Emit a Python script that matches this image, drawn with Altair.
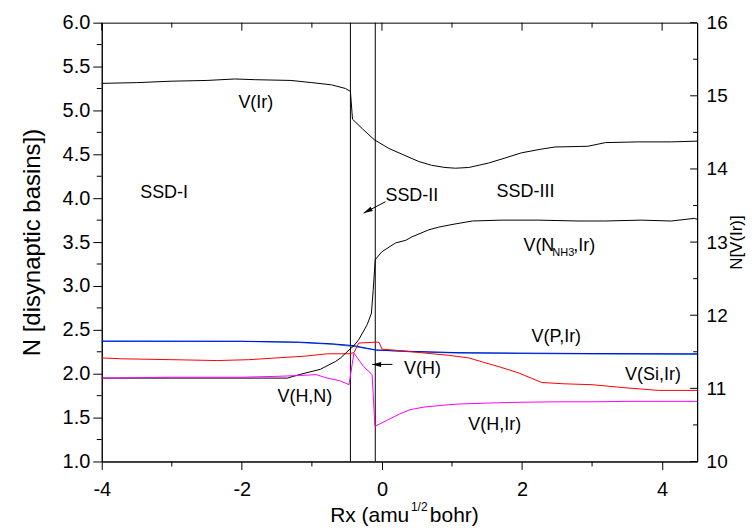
import altair as alt
import pandas as pd

# ---------------- data ----------------
# V(Ir)  -> right axis N[V(Ir)]
vir_x = [-4.0, -3.5, -3.0, -2.5, -2.1, -1.8, -1.3, -1.0, -0.72, -0.52, -0.45, -0.42, -0.28, -0.11,
         -0.04, 0.10, 0.29, 0.53, 0.71, 0.90, 1.05, 1.24, 1.52, 1.76, 1.99, 2.27, 2.47, 2.94, 3.19,
         3.66, 4.13, 4.5]
vir_n = [15.17, 15.18, 15.20, 15.21, 15.23, 15.22, 15.21, 15.18, 15.15, 15.10, 15.06, 14.68, 14.55,
         14.40, 14.36, 14.28, 14.20, 14.10, 14.05, 14.02, 14.01, 14.02, 14.08, 14.15, 14.22, 14.27,
         14.30, 14.31, 14.36, 14.37, 14.37, 14.38]

# V(H,N) -> V(N_NH3,Ir)  (black)
hn_x = [-4.0, -3.0, -2.0, -1.35, -1.18, -0.88, -0.66, -0.59, -0.47, -0.40, -0.33, -0.21, -0.15,
        -0.125, -0.095, 0.0, 0.195, 0.34, 0.43, 0.67, 0.81, 1.0, 1.29, 1.7, 2.24, 2.8, 3.18, 3.7,
        4.13, 4.46, 4.5]
hn_y = [1.95, 1.95, 1.95, 1.95, 1.99, 2.05, 2.14, 2.18, 2.27, 2.32, 2.39, 2.56, 2.69, 2.95, 3.30,
        3.39, 3.49, 3.52, 3.56, 3.64, 3.67, 3.70, 3.74, 3.75, 3.75, 3.74, 3.74, 3.75, 3.74, 3.77, 3.76]

# V(H) -> V(H,Ir)  (magenta)
h_x = [-4.0, -3.0, -2.0, -1.5, -1.16, -0.94, -0.78, -0.60, -0.47, -0.40, -0.26, -0.14, -0.10, 0.0,
       0.10, 0.25, 0.40, 0.60, 0.86, 1.1, 1.57, 2.0, 2.52, 3.0, 3.5, 4.0, 4.5]
h_y = [1.95, 1.96, 1.96, 1.97, 1.98, 1.99, 1.95, 1.92, 1.875, 2.235, 2.08, 1.99, 1.40, 1.44, 1.48,
       1.54, 1.59, 1.62, 1.64, 1.655, 1.667, 1.675, 1.68, 1.68, 1.685, 1.685, 1.685]

# V(Si,Ir)  (red)
si_x = [-4.0, -3.72, -3.0, -2.35, -1.9, -1.5, -1.1, -0.78, -0.47, -0.40, -0.33, -0.2, -0.07, -0.04,
        0.0, 0.3, 0.62, 0.95, 1.24, 1.45, 1.67, 1.95, 2.28, 2.6, 3.0, 3.47, 3.95, 4.5]
si_y = [2.18, 2.17, 2.16, 2.15, 2.16, 2.18, 2.20, 2.227, 2.227, 2.24, 2.35, 2.355, 2.36, 2.356,
        2.28, 2.26, 2.235, 2.21, 2.18, 2.13, 2.08, 2.01, 1.90, 1.885, 1.875, 1.84, 1.81, 1.81]

# V(P,Ir)  (blue and teal)
p_x = [-4.0, -3.0, -2.0, -1.18, -0.7, -0.40, -0.09, 0.4, 1.10, 2.0, 3.0, 4.0, 4.5]
p1_y = [2.37, 2.37, 2.37, 2.36, 2.34, 2.32, 2.27, 2.255, 2.24, 2.235, 2.23, 2.228, 2.227]
p2_y = [2.372, 2.37, 2.368, 2.355, 2.335, 2.31, 2.27, 2.25, 2.235, 2.23, 2.225, 2.222, 2.22]

# SSD region borders
border_x = [-0.45, -0.095]

# annotations
ann_text = ["V(Ir)", "SSD-I", "SSD-III", "V(P,Ir)", "V(H)", "V(Si,Ir)", "V(H,Ir)", "V(H,N)"]
ann_x = [-1.80, -3.11, 2.05, 2.49, 0.58, 3.87, 1.61, -1.10]
ann_y = [5.09, 4.06, 4.07, 2.42, 2.05, 1.99, 1.42, 1.73]
ssd2_text = ["SSD-II"]
ssd2_x = [0.05]
ssd2_y = [4.02]
nir_parts = ["V(N", "NH3", ",Ir)"]
nir_x = [2.02]
nir_y = [3.45]

# arrows: start -> tip
arrow_x1 = [0.05, 0.15]
arrow_y1 = [3.96, 2.106]
arrow_x2 = [-0.26, -0.14]
arrow_y2 = [3.83, 2.106]
arrow_angle = [242, 270]

# ticks
x_major = [-4, -2, 0, 2, 4]
x_minor = [-3, -1, 1, 3]
yl_major = [1.0, 1.5, 2.0, 2.5, 3.0, 3.5, 4.0, 4.5, 5.0, 5.5, 6.0]
yl_minor = [1.25, 1.75, 2.25, 2.75, 3.25, 3.75, 4.25, 4.75, 5.25, 5.75]
yr_major = [10, 11, 12, 13, 14, 15, 16]
yr_minor = [10.5, 11.5, 12.5, 13.5, 14.5, 15.5]

xtitle_parts = ["Rx (amu", "1/2", "bohr)"]

# ---------------- chart ----------------
W, H = 597, 440
FONT = "Liberation Sans"

xs = alt.Scale(domain=[-4, 4.5], nice=False, zero=False)
yls = alt.Scale(domain=[1, 6], nice=False, zero=False)
yrs = alt.Scale(domain=[10, 16], nice=False, zero=False)

AX_X = alt.Axis(values=x_major, labelExpr="'' + datum.value", orient="bottom", tickSize=8,
                labelFontSize=20, labelPadding=10, labelFlush=False, title=None, grid=False)
AX_YL = alt.Axis(values=yl_major, format=".1f", orient="left", tickSize=9, labelFontSize=20,
                 labelPadding=3, labelFlush=False, title="N [disynaptic basins])",
                 titleFontSize=24, titleFontWeight="normal", titleAngle=270, titleX=-69,
                 titleY=H / 2, titleAlign="center", titleBaseline="middle", grid=False)
AX_YR = alt.Axis(values=yr_major, format="d", orient="right", ticks=False, labelFontSize=19,
                 labelPadding=9, labelFlush=False, title="N[V(Ir)]", titleFontSize=17,
                 titleFontWeight="normal", titleAngle=270, titleX=39, titleY=H / 2,
                 titleAlign="center", titleBaseline="middle", grid=False)


def X(f):
    return alt.X(f, scale=xs, axis=AX_X)


def YL(f):
    return alt.Y(f, scale=yls, axis=AX_YL)


def YR(f):
    return alt.Y(f, scale=yrs, axis=AX_YR)


def line(xv, yv, color):
    df = pd.DataFrame({"x": xv, "y": yv})
    return alt.Chart(df).mark_line(color=color, strokeWidth=1).encode(
        x=X("x:Q"), y=YL("y:Q"), order=alt.Order("x:Q"))


left_minor = alt.Chart(pd.DataFrame({"v": yl_minor})).mark_rule(color="black").encode(
    y=YL("v:Q"), x=alt.value(-5), x2=alt.value(0))
bottom_minor = alt.Chart(pd.DataFrame({"v": x_minor})).mark_rule(color="black").encode(
    x=X("v:Q"), y=alt.value(H), y2=alt.value(H + 5))
top_major = alt.Chart(pd.DataFrame({"v": x_major})).mark_rule(color="black").encode(
    x=X("v:Q"), y=alt.value(0), y2=alt.value(8))
top_minor = alt.Chart(pd.DataFrame({"v": x_minor})).mark_rule(color="black").encode(
    x=X("v:Q"), y=alt.value(0), y2=alt.value(5))

borders = alt.Chart(pd.DataFrame({"v": border_x})).mark_rule(color="black", strokeWidth=1).encode(
    x=X("v:Q"))

ann = alt.Chart(pd.DataFrame({"x": ann_x, "y": ann_y, "t": ann_text})).mark_text(
    font=FONT, fontSize=18, color="black", align="center", baseline="middle").encode(
    x=X("x:Q"), y=YL("y:Q"), text="t:N")
ssd2 = alt.Chart(pd.DataFrame({"x": ssd2_x, "y": ssd2_y, "t": ssd2_text})).mark_text(
    font=FONT, fontSize=18, color="black", align="left", baseline="middle").encode(
    x=X("x:Q"), y=YL("y:Q"), text="t:N")

nir_df = pd.DataFrame({"x": nir_x * 3, "y": nir_y * 3, "t": nir_parts})
nir_a = alt.Chart(nir_df.iloc[[0]]).mark_text(
    font=FONT, fontSize=18, color="black", align="left", baseline="middle").encode(
    x=X("x:Q"), y=YL("y:Q"), text="t:N")
nir_b = alt.Chart(nir_df.iloc[[1]]).mark_text(
    font=FONT, fontSize=11, color="black", align="left", baseline="middle", dx=29, dy=7).encode(
    x=X("x:Q"), y=YL("y:Q"), text="t:N")
nir_c = alt.Chart(nir_df.iloc[[2]]).mark_text(
    font=FONT, fontSize=18, color="black", align="left", baseline="middle", dx=50).encode(
    x=X("x:Q"), y=YL("y:Q"), text="t:N")

arr_df = pd.DataFrame({"x1": arrow_x1, "y1": arrow_y1, "x2": arrow_x2, "y2": arrow_y2,
                       "a": arrow_angle})
shafts = alt.Chart(arr_df).mark_rule(color="black", strokeWidth=1).encode(
    x=X("x1:Q"), y=YL("y1:Q"), x2="x2:Q", y2="y2:Q")
heads = alt.Chart(arr_df).mark_point(
    shape="M0,0L0.28,1L-0.28,1Z", filled=True, color="black", size=324, opacity=1).encode(
    x=X("x2:Q"), y=YL("y2:Q"), angle=alt.Angle("a:Q", scale=None))

xt_df = pd.DataFrame({"t": xtitle_parts})
xt_a = alt.Chart(xt_df.iloc[[0]]).mark_text(
    font=FONT, fontSize=21, color="black", align="left", baseline="middle").encode(
    x=alt.value(229), y=alt.value(H + 55), text="t:N")
xt_b = alt.Chart(xt_df.iloc[[1]]).mark_text(
    font=FONT, fontSize=12, color="black", align="left", baseline="middle").encode(
    x=alt.value(310), y=alt.value(H + 46), text="t:N")
xt_c = alt.Chart(xt_df.iloc[[2]]).mark_text(
    font=FONT, fontSize=21, color="black", align="left", baseline="middle").encode(
    x=alt.value(329), y=alt.value(H + 55), text="t:N")

left_group = alt.layer(
    left_minor, bottom_minor, top_major, top_minor, borders,
    line(p_x, p2_y, "#008B8B"),
    line(p_x, p1_y, "#0000FF"),
    line(si_x, si_y, "#FF0000"),
    line(hn_x, hn_y, "#000000"),
    line(h_x, h_y, "#FF00FF"),
    ann, ssd2, nir_a, nir_b, nir_c, shafts, heads, xt_a, xt_b, xt_c,
)

vir_df = pd.DataFrame({"x": vir_x, "y": vir_n})
vir_line = alt.Chart(vir_df).mark_line(color="black", strokeWidth=1).encode(
    x=X("x:Q"), y=YR("y:Q"), order=alt.Order("x:Q"))
right_major = alt.Chart(pd.DataFrame({"v": yr_major})).mark_rule(color="black").encode(
    y=YR("v:Q"), x=alt.value(W - 7), x2=alt.value(W))
right_minor = alt.Chart(pd.DataFrame({"v": yr_minor})).mark_rule(color="black").encode(
    y=YR("v:Q"), x=alt.value(W - 4), x2=alt.value(W))

right_group = alt.layer(vir_line, right_major, right_minor)

chart = alt.layer(left_group, right_group).resolve_scale(y="independent").properties(
    width=W, height=H,
    autosize=alt.AutoSizeParams(type="none"),
    padding={"left": 94, "top": 14, "right": 50, "bottom": 69},
    background="white",
).configure_axis(
    labelFont=FONT, titleFont=FONT, labelColor="black", titleColor="black",
    domainColor="black", tickColor="black", domainWidth=1, tickWidth=1,
).configure_view(stroke="black", strokeWidth=1)

chart.save("out.html", embed_options={"renderer": "svg", "actions": False})
